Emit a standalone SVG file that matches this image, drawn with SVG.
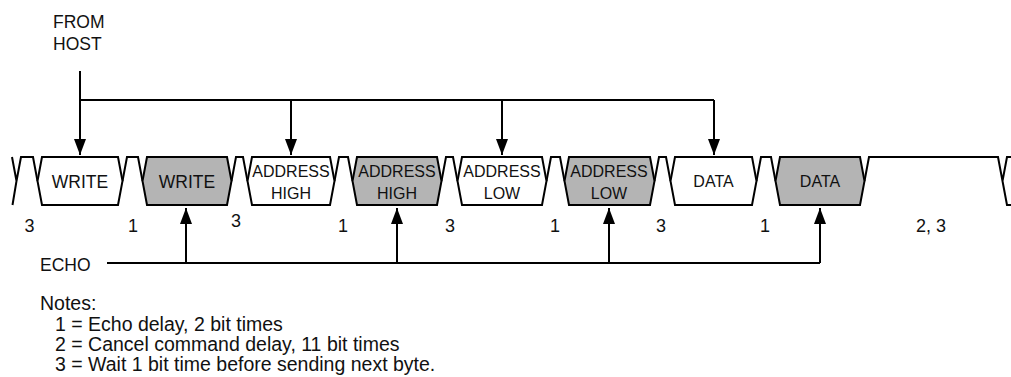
<svg xmlns="http://www.w3.org/2000/svg" width="1011" height="377" viewBox="0 0 1011 377">
<style>
text{font-family:"Liberation Sans",Arial,Helvetica,sans-serif;fill:#111}
.lbl{font-size:17.5px}
.sm{font-size:16px}
.num{font-size:18px}
.note{font-size:19.5px}
.w{fill:#fff;stroke:#000;stroke-width:2}
.g{fill:#b4b4b4;stroke:#000;stroke-width:2}
.wire{fill:none;stroke:#000;stroke-width:2}
</style>
<defs>
<marker id="ah" markerUnits="userSpaceOnUse" markerWidth="16" markerHeight="12" refX="16" refY="6" orient="auto">
<path d="M0,0 L16,6 L0,12 z" fill="#000"/>
</marker>
</defs>

<text class="lbl" x="53" y="28">FROM</text>
<text class="lbl" x="53" y="50">HOST</text>

<g id="idle-line">
<path class="wire" d="M12,157 L16.5,181 L12.5,205 M16.5,181 L21,157 L33,157 L37.5,181"/>
<path class="wire" d="M122.5,181 L127,157 L138,157 L142.5,181"/>
<path class="wire" d="M231.5,181 L236,157 L243,157 L247.5,181"/>
<path class="wire" d="M334.5,181 L339,157 L348,157 L352.5,181"/>
<path class="wire" d="M441.5,181 L446,157 L453,157 L457.5,181"/>
<path class="wire" d="M546.5,181 L551,157 L560,157 L564.5,181"/>
<path class="wire" d="M654.5,181 L659,157 L666,157 L670.5,181"/>
<path class="wire" d="M756.5,181 L761,157 L771,157 L775.5,181"/>
<path class="wire" d="M864.5,181 L869,157 L998,157 L1002.5,181 L1007,157 L1012,157 M1002.5,181 L1007,205 L1012,205"/>
</g>

<g id="write-host">
<polygon class="w" points="42,157 118,157 122.5,181 118,205 42,205 37.5,181"/>
<text class="lbl" x="80" y="188" text-anchor="middle">WRITE</text>
</g>
<g id="write-echo">
<polygon class="g" points="147,157 227,157 231.5,181 227,205 147,205 142.5,181"/>
<text class="lbl" x="187" y="188" text-anchor="middle">WRITE</text>
</g>
<g id="addrhigh-host">
<polygon class="w" points="252,157 330,157 334.5,181 330,205 252,205 247.5,181"/>
<text class="sm" x="291" y="177" text-anchor="middle">ADDRESS</text>
<text class="sm" x="291" y="199" text-anchor="middle">HIGH</text>
</g>
<g id="addrhigh-echo">
<polygon class="g" points="357,157 437,157 441.5,181 437,205 357,205 352.5,181"/>
<text class="sm" x="397" y="177" text-anchor="middle">ADDRESS</text>
<text class="sm" x="397" y="199" text-anchor="middle">HIGH</text>
</g>
<g id="addrlow-host">
<polygon class="w" points="462,157 542,157 546.5,181 542,205 462,205 457.5,181"/>
<text class="sm" x="502" y="177" text-anchor="middle">ADDRESS</text>
<text class="sm" x="502" y="199" text-anchor="middle">LOW</text>
</g>
<g id="addrlow-echo">
<polygon class="g" points="569,157 650,157 654.5,181 650,205 569,205 564.5,181"/>
<text class="sm" x="609" y="177" text-anchor="middle">ADDRESS</text>
<text class="sm" x="609" y="199" text-anchor="middle">LOW</text>
</g>
<g id="data-host">
<polygon class="w" points="675,157 752,157 756.5,181 752,205 675,205 670.5,181"/>
<text class="sm" x="713.5" y="187" text-anchor="middle">DATA</text>
</g>
<g id="data-echo">
<polygon class="g" points="780,157 860,157 864.5,181 860,205 780,205 775.5,181"/>
<text class="sm" x="820" y="187" text-anchor="middle">DATA</text>
</g>

<g id="timing-labels" class="num" text-anchor="middle">
<text x="29.5" y="232">3</text>
<text x="133" y="232">1</text>
<text x="236" y="227">3</text>
<text x="343" y="232">1</text>
<text x="450" y="232">3</text>
<text x="555" y="232">1</text>
<text x="661" y="232">3</text>
<text x="765" y="232">1</text>
<text x="931" y="232">2, 3</text>
</g>

<g id="connectors">
<path class="wire" d="M80,71 L80,100 L714,100"/>
<line class="wire" x1="80" y1="100" x2="80" y2="155" marker-end="url(#ah)"/>
<line class="wire" x1="291" y1="100" x2="291" y2="155" marker-end="url(#ah)"/>
<line class="wire" x1="502" y1="100" x2="502" y2="155" marker-end="url(#ah)"/>
<line class="wire" x1="714" y1="100" x2="714" y2="155" marker-end="url(#ah)"/>
<path class="wire" d="M107,263 L820,263"/>
<line class="wire" x1="186" y1="263" x2="186" y2="208" marker-end="url(#ah)"/>
<line class="wire" x1="397" y1="263" x2="397" y2="208" marker-end="url(#ah)"/>
<line class="wire" x1="609" y1="263" x2="609" y2="208" marker-end="url(#ah)"/>
<line class="wire" x1="820" y1="263" x2="820" y2="208" marker-end="url(#ah)"/>
</g>

<text class="lbl" x="40" y="271">ECHO</text>

<g id="notes" class="note">
<text x="40" y="310">Notes:</text>
<text x="55" y="331">1 = Echo delay, 2 bit times</text>
<text x="55" y="351">2 = Cancel command delay, 11 bit times</text>
<text x="55" y="371">3 = Wait 1 bit time before sending next byte.</text>
</g>
</svg>
